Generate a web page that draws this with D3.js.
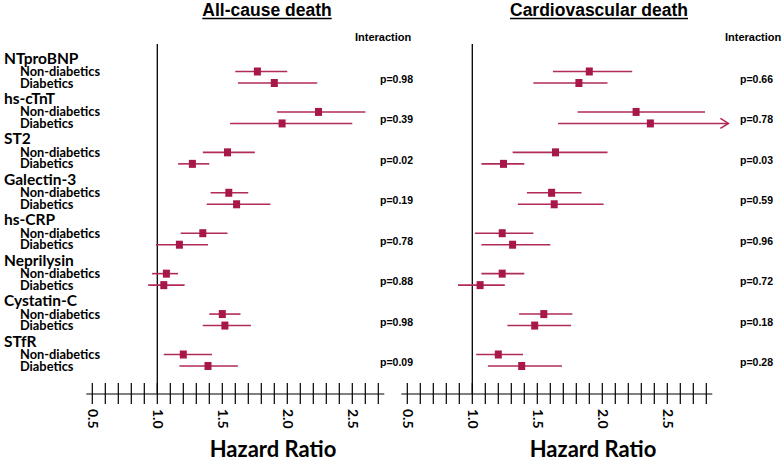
<!DOCTYPE html>
<html>
<head>
<meta charset="utf-8">
<script src="https://cdn.jsdelivr.net/npm/d3@7"></script>
<style>
  body { margin: 0; background: #fff; }
  svg { display: block; }
</style>
</head>
<body>
<svg width="784" height="463"></svg>
<script>
// markers and subgroups
var markers = ["NTproBNP", "hs-cTnT", "ST2", "Galectin-3", "hs-CRP", "Neprilysin", "Cystatin-C", "STfR"];
var subgroups = ["Non-diabetics", "Diabetics"];

// all-cause death: [hr, lo, hi] per marker, non-diabetics then diabetics
var allNonDiab = [[1.77, 1.60, 2.00], [2.24, 1.92, 2.60], [1.54, 1.35, 1.75], [1.55, 1.41, 1.70], [1.35, 1.18, 1.54], [1.07, 0.96, 1.16], [1.50, 1.40, 1.64], [1.20, 1.05, 1.42]];
var allDiab    = [[1.90, 1.62, 2.23], [1.96, 1.56, 2.50], [1.27, 1.16, 1.40], [1.61, 1.38, 1.87], [1.17, 0.99, 1.39], [1.05, 0.93, 1.21], [1.52, 1.35, 1.72], [1.39, 1.17, 1.62]];
var allP = ["p=0.98", "p=0.39", "p=0.02", "p=0.19", "p=0.78", "p=0.88", "p=0.98", "p=0.09"];

// cardiovascular death
var cvNonDiab = [[1.90, 1.62, 2.23], [2.26, 1.81, 2.79], [1.64, 1.31, 2.04], [1.61, 1.42, 1.84], [1.23, 1.02, 1.47], [1.23, 1.07, 1.40], [1.55, 1.36, 1.77], [1.20, 1.03, 1.39]];
var cvDiab    = [[1.82, 1.47, 2.04], [2.37, 1.66, 3.30], [1.24, 1.07, 1.40], [1.63, 1.35, 2.01], [1.31, 1.07, 1.60], [1.06, 0.89, 1.25], [1.48, 1.27, 1.76], [1.38, 1.12, 1.69]];
var cvP = ["p=0.66", "p=0.78", "p=0.03", "p=0.59", "p=0.96", "p=0.72", "p=0.18", "p=0.28"];

var tickLabels = ["0.5", "1.0", "1.5", "2.0", "2.5"];

var svg = d3.select("svg");
var red = "#a8174a", lineRed = "#b02a5a";
var calib = "Lato, 'Open Sans', sans-serif";
var arial = "'Liberation Sans', Arial, sans-serif";

var yGroup = d3.scalePoint().domain(markers).range([58, 341]);
var rowOff = { "Non-diabetics": 13.5, "Diabetics": 25 };

// row labels
markers.forEach(function (m) {
  svg.append("text")
    .attr("x", 4).attr("y", yGroup(m) + 5.5)
    .attr("font-family", calib).attr("font-weight", 700).attr("font-size", 15.5)
    .text(m);
  subgroups.forEach(function (s) {
    svg.append("text")
      .attr("x", 20).attr("y", yGroup(m) + rowOff[s] + 4.5)
      .attr("font-family", calib).attr("font-weight", 700).attr("font-size", 12.8)
      .text(s);
  });
});

function panel(cfg) {
  var x = d3.scaleLinear().domain([0.5, 1.0]).range([cfg.x05, cfg.x05 + 65]);
  var g = svg.append("g");

  // title
  var t = g.append("text")
    .attr("x", cfg.titleX).attr("y", 16)
    .attr("text-anchor", "middle")
    .attr("font-family", arial).attr("font-weight", 700).attr("font-size", 17.5)
    .text(cfg.title);
  var bb = t.node().getBBox();
  g.append("line")
    .attr("x1", bb.x).attr("x2", bb.x + bb.width)
    .attr("y1", 18.5).attr("y2", 18.5)
    .attr("stroke", "#000").attr("stroke-width", 1.6);

  g.append("text")
    .attr("x", cfg.interX).attr("y", 41)
    .attr("font-family", arial).attr("font-weight", 700).attr("font-size", 11)
    .text("Interaction");

  // axis
  var axisY = 394;
  var ticks = d3.range(5, cfg.maxTick + 1).map(function (d) { return d / 10; });
  g.append("line")
    .attr("x1", x(0.5) - 6).attr("x2", x(cfg.maxTick / 10) + 6)
    .attr("y1", axisY).attr("y2", axisY)
    .attr("stroke", "#000").attr("stroke-width", 1.2);
  g.selectAll(".tk").data(ticks).enter().append("line")
    .attr("x1", function (d) { return x(d); }).attr("x2", function (d) { return x(d); })
    .attr("y1", axisY - 11).attr("y2", axisY + 10)
    .attr("stroke", "#000").attr("stroke-width", 1.2);
  tickLabels.forEach(function (l) {
    g.append("text")
      .attr("transform", "translate(" + (x(+l) - 4.5) + "," + 409 + ") rotate(90)")
      .attr("font-family", calib).attr("font-weight", 700).attr("font-size", 14)
      .text(l);
  });
  g.append("text")
    .attr("x", cfg.hrX).attr("y", 457)
    .attr("text-anchor", "middle")
    .attr("font-family", calib).attr("font-weight", 700).attr("font-size", 22)
    .text("Hazard Ratio");

  // reference line at 1
  g.append("line")
    .attr("x1", x(1)).attr("x2", x(1))
    .attr("y1", 44).attr("y2", axisY)
    .attr("stroke", "#000").attr("stroke-width", 1.3);

  markers.forEach(function (m, i) {
    [[cfg.nd[i], "Non-diabetics"], [cfg.d[i], "Diabetics"]].forEach(function (p) {
      var v = p[0], y = yGroup(m) + rowOff[p[1]];
      var hi = Math.min(v[2], cfg.clip);
      g.append("line")
        .attr("x1", x(v[1])).attr("x2", x(hi))
        .attr("y1", y).attr("y2", y)
        .attr("stroke", lineRed).attr("stroke-width", 1.6);
      if (v[2] > cfg.clip) {
        g.append("path")
          .attr("d", "M" + (x(hi) - 8) + "," + (y - 5) + "L" + x(hi) + "," + y + "L" + (x(hi) - 8) + "," + (y + 5))
          .attr("fill", "none").attr("stroke", lineRed).attr("stroke-width", 1.6);
      }
      g.append("rect")
        .attr("x", x(v[0]) - 3.5).attr("y", y - 4)
        .attr("width", 7).attr("height", 8)
        .attr("fill", red);
    });
    g.append("text")
      .attr("x", cfg.pX).attr("y", yGroup(m) + 25)
      .attr("font-family", arial).attr("font-weight", 700).attr("font-size", 10.5)
      .text(cfg.p[i]);
  });
}

panel({ title: "All-cause death", titleX: 267, interX: 355, x05: 92.3, maxTick: 27, hrX: 273,
        nd: allNonDiab, d: allDiab, p: allP, pX: 380, clip: 10 });
panel({ title: "Cardiovascular death", titleX: 599, interX: 725, x05: 407.3, maxTick: 28, hrX: 593,
        nd: cvNonDiab, d: cvDiab, p: cvP, pX: 740, clip: 2.97 });
</script>
</body>
</html>
